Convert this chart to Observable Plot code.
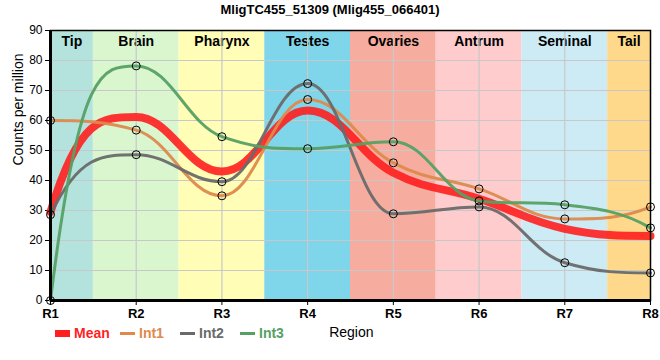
<!DOCTYPE html>
<html><head><meta charset="utf-8">
<script src="https://cdn.jsdelivr.net/npm/d3@7"></script>
<script src="https://cdn.jsdelivr.net/npm/@observablehq/plot@0.6"></script>
<style>
body{margin:0;background:#fff;font-family:"Liberation Sans",Arial,sans-serif;}
#wrap{position:relative;width:660px;height:360px;}
#title{position:absolute;top:2px;left:0;width:660px;text-align:center;font-weight:bold;font-size:13px;}
#chart{position:absolute;top:0;left:0;}
#legend{position:absolute;top:325px;left:55px;font-size:14px;font-weight:bold;display:flex;align-items:center;}
.it{display:flex;align-items:center;}
.sw{display:inline-block;width:15px;margin-right:4px;}
</style></head>
<body><div id="wrap"><div id="chart"></div><div id="title">MligTC455_51309 (Mlig455_066401)</div><div id="legend"></div></div>
<script>
const regions = ["Tip","Brain","Pharynx","Testes","Ovaries","Antrum","Seminal","Tail"];
const regionColors = ["#b4e3dd","#d9f6cf","#fffdb6","#7fd5ea","#f6ad9f","#fecccc","#cdebf4","#fed98b"];
const xLabels = ["R1","R2","R3","R4","R5","R6","R7","R8"];
const mean = [29.5, 61.2, 43.0, 63.3, 42.6, 33.9, 23.9, 21.5];
const int1 = [60.0, 56.8, 34.9, 67.0, 45.9, 37.2, 27.2, 31.2];
const int2 = [28.6, 48.6, 39.6, 72.3, 28.9, 31.2, 12.6, 9.2];
const int3 = [0.0, 78.2, 54.6, 50.6, 52.9, 33.2, 31.9, 24.2];
const seriesNames = ["Mean","Int1","Int2","Int3"];
const seriesColors = ["#ff1f1f","#dd8a4c","#6a6a6a","#56a065"];
const legendWidths = [65,60,60,60];

// smooth spline: interior control points at 0.4 of the gap, clamped to avoid false extremes;
// end tangents steep (up to 3x the end secant), never reversing direction
function Spline(context){ this._context = context; }
Spline.prototype = {
  areaStart(){ this._line = 0; }, areaEnd(){ this._line = NaN; },
  lineStart(){ this._x = []; this._y = []; },
  point(x,y){ this._x.push(+x); this._y.push(+y); },
  lineEnd(){
    const X=this._x, Y=this._y, n=X.length, c=this._context, s=1.5, den=s+1;
    if (!n) return;
    const lc=[], rc=[], sl=[];
    for (let i=1;i<n-1;i++){
      const px=X[i], py=Y[i], lx=X[i-1], ly=Y[i-1], nx=X[i+1], ny=Y[i+1];
      let lcx=(s*px+lx)/den, lcy=(s*py+ly)/den, rcx=(s*px+nx)/den, rcy=(s*py+ny)/den;
      let corr=0;
      if (rcx!==lcx) corr=((rcy-lcy)*(rcx-px))/(rcx-lcx)+py-rcy;
      lcy+=corr; rcy+=corr;
      if (lcy>ly && lcy>py){ lcy=Math.max(ly,py); rcy=2*py-lcy; }
      else if (lcy<ly && lcy<py){ lcy=Math.min(ly,py); rcy=2*py-lcy; }
      if (rcy>ny && rcy>py){ rcy=Math.max(ny,py); lcy=2*py-rcy; }
      else if (rcy<ny && rcy<py){ rcy=Math.min(ny,py); lcy=2*py-rcy; }
      lc[i]=[lcx,lcy]; rc[i]=[rcx,rcy]; sl[i]=(rcy-lcy)/(rcx-lcx);
    }
    const endSlope = (sec, inner) => {
      let m = 3*sec - 2*inner;
      if (sec >= 0) m = Math.max(0, Math.min(3*sec, m)); else m = Math.min(0, Math.max(3*sec, m));
      return m;
    };
    if (n > 2){
      const dx0 = X[1]-X[0], s0 = endSlope((Y[1]-Y[0])/dx0, sl[1]);
      rc[0] = [X[0]+dx0/3, Y[0]+s0*dx0/3];
      const dxn = X[n-1]-X[n-2], sn = endSlope((Y[n-1]-Y[n-2])/dxn, sl[n-2]);
      lc[n-1] = [X[n-1]-dxn/3, Y[n-1]-sn*dxn/3];
    }
    c.moveTo(X[0],Y[0]);
    for (let i=1;i<n;i++){
      const a = rc[i-1] || [X[i-1],Y[i-1]];
      const b = lc[i] || [X[i],Y[i]];
      c.bezierCurveTo(a[0],a[1],b[0],b[1],X[i],Y[i]);
    }
  }
};
const spline = ctx => new Spline(ctx);

const bands = regions.map((r,i)=>({r, x1: Math.max(1, i+0.5), x2: Math.min(8, i+1.5), c: regionColors[i]}));
const toPts = (arr,s)=>arr.map((v,i)=>({x:i+1, y:v, s}));
const lines = [toPts(int1,"Int1"), toPts(int2,"Int2"), toPts(int3,"Int3")];
const pts = lines.flat();

const plot = Plot.plot({
  width:660, height:360,
  marginTop:30, marginBottom:60, marginLeft:50, marginRight:10,
  style:{fontFamily:"Liberation Sans, Arial, sans-serif", fontSize:"12px", background:"transparent"},
  x:{domain:[1,8], ticks:[1,2,3,4,5,6,7,8], tickFormat:d=>xLabels[d-1], label:null},
  y:{domain:[0,90], ticks:d3.range(0,91,10), label:null},
  marks:[
    Plot.rectY(bands,{x1:"x1",x2:"x2",y1:0,y2:90,fill:"c"}),
    Plot.text(bands,{x:d=>(d.x1+d.x2)/2, y:90, text:"r", dy:11, fontWeight:"bold", fontSize:14, fill:"black"}),
    Plot.gridY(d3.range(10,90,10),{stroke:"#c8c8c8", strokeOpacity:1, strokeWidth:1.2}),
    Plot.gridX([2,3,4,5,6,7],{stroke:"#c8c8c8", strokeOpacity:1, strokeWidth:1.2}),
    Plot.axisY({ticks:d3.range(0,91,10), tickSize:5, tickPadding:3, fontSize:12, label:null}),
    Plot.text(["Counts per million"],{frameAnchor:"left", dx:-32, rotate:-90, text:d=>d, fontSize:14, fill:"black"}),
    Plot.axisX({ticks:[1,2,3,4,5,6,7,8], tickFormat:d=>xLabels[d-1], tickSize:5, tickPadding:3, fontWeight:"bold", fontSize:13, label:null}),
    Plot.text(["Region"],{x:4.51, y:0, dy:32, text:d=>d, fontSize:14, fill:"black"}),
    Plot.line(toPts(mean,"Mean"),{x:"x",y:"y",curve:spline,stroke:seriesColors[0],strokeWidth:8,strokeOpacity:0.9}),
    ...lines.map((l,i)=>Plot.line(l,{x:"x",y:"y",curve:spline,stroke:seriesColors[i+1],strokeWidth:3,strokeOpacity:0.95})),
    Plot.dot(pts,{x:"x",y:"y",r:4,stroke:"black",strokeWidth:1,fill:"none"}),
    Plot.frame({stroke:"black",strokeWidth:1.5}),
    Plot.ruleX([1],{stroke:"black",strokeWidth:3}),
    Plot.ruleY([0],{stroke:"black",strokeWidth:3})
  ]
});
document.getElementById("chart").appendChild(plot);

const leg = document.getElementById("legend");
seriesNames.forEach((n,i)=>{
  const it=document.createElement("div"); it.className="it"; it.style.width=legendWidths[i]+"px";
  const sw=document.createElement("span"); sw.className="sw";
  sw.style.height = i===0 ? "7px" : "3px";
  sw.style.background = seriesColors[i];
  const t=document.createElement("span"); t.textContent=n; t.style.color=seriesColors[i];
  it.appendChild(sw); it.appendChild(t); leg.appendChild(it);
});
</script></body></html>
